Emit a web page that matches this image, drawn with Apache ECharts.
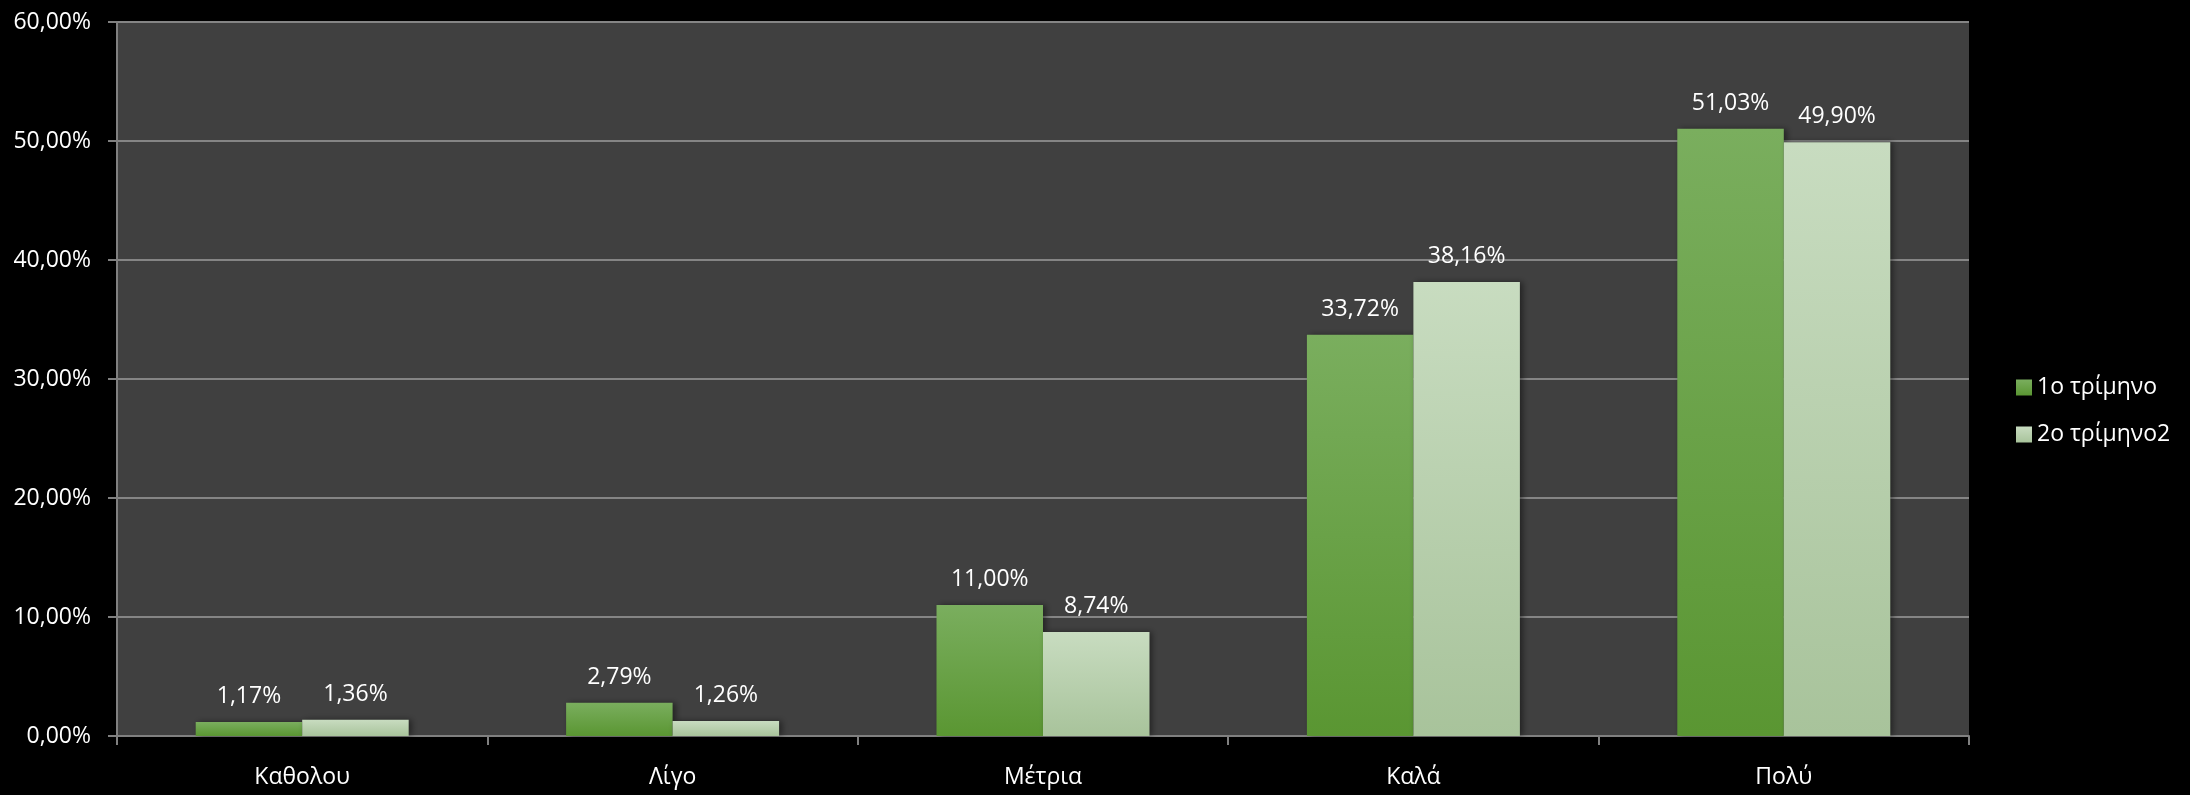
<!DOCTYPE html>
<html>
<head>
<meta charset="utf-8">
<script src="https://cdn.jsdelivr.net/npm/echarts@6/dist/echarts.min.js"></script>
<style>
html,body{margin:0;padding:0;background:#000;}
#chart{width:2190px;height:795px;}
</style>
</head>
<body>
<div id="chart"></div>
<script>
const categories = ['Καθολου', 'Λίγο', 'Μέτρια', 'Καλά', 'Πολύ'];
const seriesNames = ['1ο τρίμηνο', '2ο τρίμηνο2'];
const q1Values = [1.17, 2.79, 11.00, 33.72, 51.03];
const q2Values = [1.36, 1.26, 8.74, 38.16, 49.90];
const yTicks = [0, 10, 20, 30, 40, 50, 60];

const FONT = '"Open Sans", "Noto Sans", sans-serif';
const FS = 23;
const fmt = v => v.toFixed(2).replace('.', ',') + '%';
const grad = (a, b) => new echarts.graphic.LinearGradient(0, 0, 0, 1, [{offset: 0, color: a}, {offset: 1, color: b}]);

const chart = echarts.init(document.getElementById('chart'));
const labelCfg = {
  show: true, position: 'top', distance: 14, color: '#ffffff',
  fontFamily: FONT, fontSize: FS, formatter: p => fmt(p.value)
};
chart.setOption({
  backgroundColor: '#000000',
  animation: false,
  grid: {left: 117, top: 22, right: 221, bottom: 59, show: true, backgroundColor: '#404040', borderWidth: 0},
  legend: {
    orient: 'vertical', left: 2011, top: 371, itemWidth: 16, itemHeight: 16, itemGap: 24,
    icon: 'rect',
    textStyle: {color: '#ffffff', fontFamily: FONT, fontSize: FS},
    data: seriesNames
  },
  xAxis: {
    type: 'category', data: categories,
    axisLine: {lineStyle: {color: '#808080', width: 2}},
    axisTick: {show: true, length: 9, lineStyle: {color: '#808080', width: 2}},
    axisLabel: {color: '#ffffff', fontFamily: FONT, fontSize: FS, margin: 30}
  },
  yAxis: {
    type: 'value', min: yTicks[0], max: yTicks[yTicks.length - 1], interval: 10,
    axisLine: {show: true, lineStyle: {color: '#808080', width: 2}},
    axisTick: {show: true, length: 9, lineStyle: {color: '#808080', width: 2}},
    splitLine: {lineStyle: {color: '#858585', width: 2}},
    axisLabel: {color: '#ffffff', fontFamily: FONT, fontSize: FS, margin: 26, formatter: v => fmt(v)}
  },
  series: [
    {
      name: seriesNames[0], type: 'bar', data: q1Values,
      barGap: '0%', barCategoryGap: '42.5%',
      itemStyle: {color: grad('#7aae5e', '#5a9632'), shadowColor: 'rgba(0,0,0,0.45)', shadowBlur: 6, shadowOffsetX: 3},
      label: labelCfg
    },
    {
      name: seriesNames[1], type: 'bar', data: q2Values,
      barGap: '0%', barCategoryGap: '42.5%',
      itemStyle: {color: grad('#c8dcc0', '#a8c39b'), shadowColor: 'rgba(0,0,0,0.45)', shadowBlur: 6, shadowOffsetX: 3},
      label: labelCfg
    }
  ]
});
</script>
</body>
</html>
